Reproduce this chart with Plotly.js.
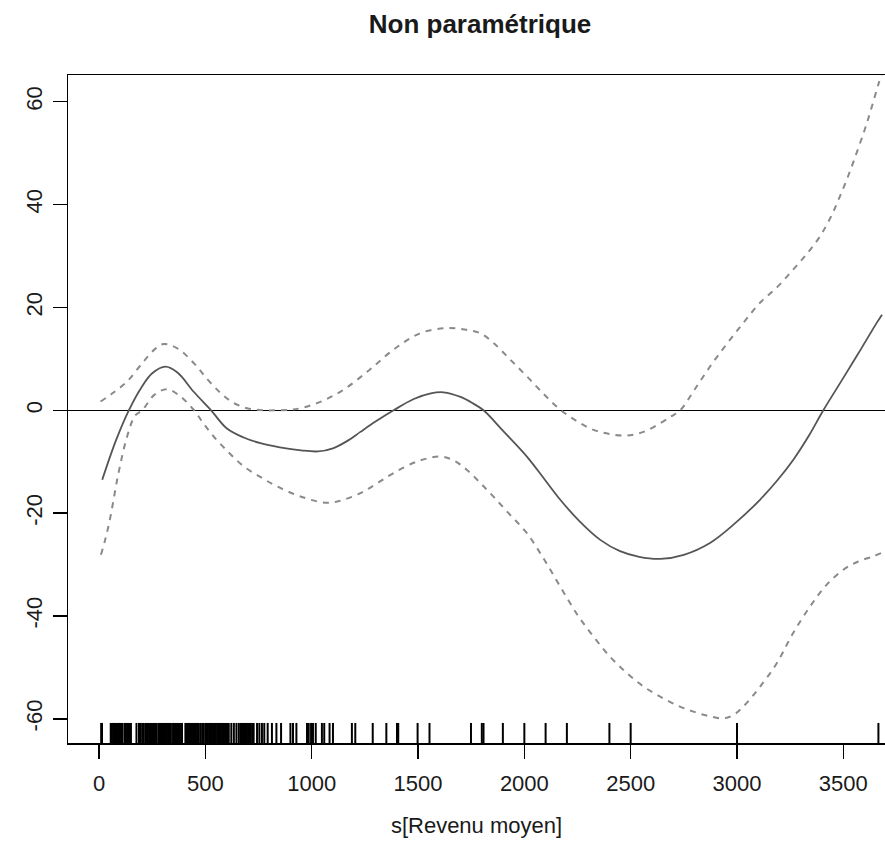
<!DOCTYPE html>
<html>
<head>
<meta charset="utf-8">
<script src="https://cdn.plot.ly/plotly-3.0.1.min.js"></script>
<style>html,body{margin:0;padding:0;background:#fff;}#chart{width:885px;height:850px;}</style>
</head>
<body>
<div id="chart"></div>
<script>
// Smooth fit s(Revenu moyen)
const fitX = [15, 80, 140, 200, 250, 312, 370, 445, 527, 600, 680, 759, 850, 950, 1030, 1100, 1170, 1229, 1300, 1385, 1480, 1560, 1620, 1700, 1760, 1808, 1900, 2012, 2100, 2169, 2260, 2357, 2450, 2540, 2639, 2750, 2873, 2990, 3108, 3190, 3265, 3340, 3406, 3500, 3580, 3657, 3682];
const fitY = [-13.5, -5.8, 0, 4.5, 7.2, 8.5, 7.3, 3.6, 0, -3.5, -5.3, -6.4, -7.2, -7.8, -8.0, -7.4, -5.9, -4.2, -2.2, 0, 2.2, 3.3, 3.5, 2.6, 1.3, 0, -4.0, -9.0, -13.7, -17.4, -21.6, -25.2, -27.4, -28.5, -28.9, -28.1, -25.8, -22.0, -17.4, -13.6, -9.6, -4.8, 0, 6.3, 11.7, 17.0, 18.6];

// Upper confidence band
const upX = [7, 70, 132, 200, 260, 304, 370, 445, 510, 571, 630, 696, 770, 837, 900, 947, 1050, 1150, 1270, 1385, 1511, 1636, 1720, 1792, 1855, 1930, 2012, 2090, 2169, 2250, 2325, 2400, 2482, 2560, 2639, 2690, 2733, 2800, 2873, 2950, 3030, 3108, 3190, 3265, 3330, 3390, 3440, 3484, 3525, 3563, 3600, 3626, 3665, 3682];
const upY = [1.7, 3.5, 5.6, 9.0, 11.8, 12.9, 12.0, 9.2, 6.0, 3.4, 1.5, 0.4, 0.0, 0.0, 0.1, 0.4, 1.8, 4.0, 7.8, 11.8, 15.0, 16.0, 15.7, 15.0, 13.1, 10.0, 6.6, 3.2, 0.1, -2.2, -3.8, -4.6, -4.9, -4.2, -2.5, -1.2, 0, 4.0, 8.5, 12.8, 17.0, 20.9, 24.0, 27.4, 30.5, 33.8, 37.5, 41.6, 45.8, 50.1, 54.5, 57.9, 63.4, 65.5];

// Lower confidence band
const loX = [9, 30, 54, 90, 132, 170, 203, 260, 320, 380, 445, 490, 539, 610, 680, 760, 837, 950, 1072, 1150, 1229, 1300, 1385, 1500, 1605, 1670, 1730, 1790, 1855, 1930, 2012, 2090, 2169, 2250, 2325, 2400, 2482, 2560, 2639, 2720, 2795, 2870, 2936, 2985, 3030, 3100, 3187, 3260, 3343, 3420, 3500, 3570, 3641, 3682];
const loY = [-28.1, -25.0, -20.6, -12.5, -5.1, -1.0, 0, 3.0, 4.1, 2.8, 0.1, -2.5, -5.1, -8.2, -10.9, -13.0, -14.8, -16.8, -18.0, -17.4, -16.1, -14.4, -12.2, -9.9, -9.0, -9.8, -11.6, -14.0, -16.8, -20.2, -23.9, -28.8, -34.3, -39.8, -44.0, -47.8, -51.1, -53.7, -55.7, -57.4, -58.6, -59.5, -59.9, -59.2, -57.6, -54.2, -49.2, -43.6, -38.2, -34.0, -31.0, -29.4, -28.4, -27.7];

// Rug: observed values of Revenu moyen
const rugX = [10, 14,
  55, 60, 66, 71, 77, 83, 88, 94, 99, 105, 110,
  120, 126, 132, 138, 144, 150,
  176, 188, 195, 203, 210,
  218, 224, 230, 237, 243, 249,
  257, 262, 268, 278, 284, 290, 296, 302, 308, 314, 320, 326, 332, 338, 348, 351,
  356, 362, 368, 374, 380, 386, 390,
  406, 412, 418, 424, 430, 436, 442, 448, 455, 461,
  469, 477, 485, 492,
  500, 506, 512, 518, 524, 530, 536, 542, 548, 555, 561, 567, 573, 579, 585, 591, 597, 602,
  610, 622, 634, 646, 657,
  665, 671, 677, 683, 689, 695, 701, 707, 713, 720, 727,
  743, 754, 766, 777, 793, 813, 834, 856, 900, 912, 928,
  978, 986, 997, 1006, 1019, 1048, 1059, 1084, 1100, 1189, 1205, 1287, 1351, 1401, 1407,
  1498, 1554, 1749, 1800, 1808, 1899, 2000, 2100, 2200, 2400, 2500, 3000, 3665];

const xTicks = [0, 500, 1000, 1500, 2000, 2500, 3000, 3500];
const yTicks = [-60, -40, -20, 0, 20, 40, 60];

const FONT = '"Liberation Sans", Arial, Helvetica, sans-serif';

const traces = [
  {x: upX, y: upY, mode: 'lines', line: {color: '#8a8a8a', width: 2, dash: '6px,6px', shape: 'spline', smoothing: 1}, hoverinfo: 'skip'},
  {x: loX, y: loY, mode: 'lines', line: {color: '#8a8a8a', width: 2, dash: '6px,6px', shape: 'spline', smoothing: 1}, hoverinfo: 'skip'},
  {x: fitX, y: fitY, mode: 'lines', line: {color: '#555555', width: 1.8, shape: 'spline', smoothing: 1}, hoverinfo: 'skip'}
];

const shapes = rugX.map(v => ({
  type: 'line', xref: 'x', yref: 'paper', x0: v, x1: v, y0: 0, y1: 0.03,
  line: {color: '#000', width: 2}
}));

const layout = {
  width: 885, height: 850,
  margin: {l: 68, r: 0, t: 75, b: 107},
  paper_bgcolor: '#fff', plot_bgcolor: '#fff',
  showlegend: false,
  font: {family: FONT, color: '#1a1a1a', size: 22},
  title: {
    text: '<b>Non paramétrique</b>',
    font: {family: FONT, size: 26, color: '#1a1a1a'},
    xref: 'container', yref: 'container', x: 0.5424, y: 0.972, xanchor: 'center', yanchor: 'middle'
  },
  xaxis: {
    range: [-146, 3696],
    tickvals: xTicks, ticktext: xTicks.map(String),
    ticks: 'outside', ticklen: 14, tickwidth: 1.5, tickcolor: '#000',
    ticklabelstandoff: 6,
    showline: true, linecolor: '#000', linewidth: 1.5, mirror: true,
    showgrid: false, zeroline: false,
    tickfont: {family: FONT, size: 22, color: '#1a1a1a'},
    title: {text: 's[Revenu moyen]', font: {family: FONT, size: 22, color: '#1a1a1a'}, standoff: 22},
    automargin: false, fixedrange: true
  },
  yaxis: {
    range: [-64.7, 65.2],
    tickvals: yTicks, ticktext: yTicks.map(String),
    ticks: 'outside', ticklen: 14, tickwidth: 1.5, tickcolor: '#000',
    tickangle: -90, ticklabelstandoff: 2,
    showline: true, linecolor: '#000', linewidth: 1.5, mirror: false,
    showgrid: false,
    zeroline: true, zerolinecolor: '#000', zerolinewidth: 1.5,
    tickfont: {family: FONT, size: 22, color: '#1a1a1a'},
    automargin: false, fixedrange: true
  },
  shapes: shapes
};

Plotly.newPlot('chart', traces, layout, {staticPlot: true, displayModeBar: false});
</script>
</body>
</html>
